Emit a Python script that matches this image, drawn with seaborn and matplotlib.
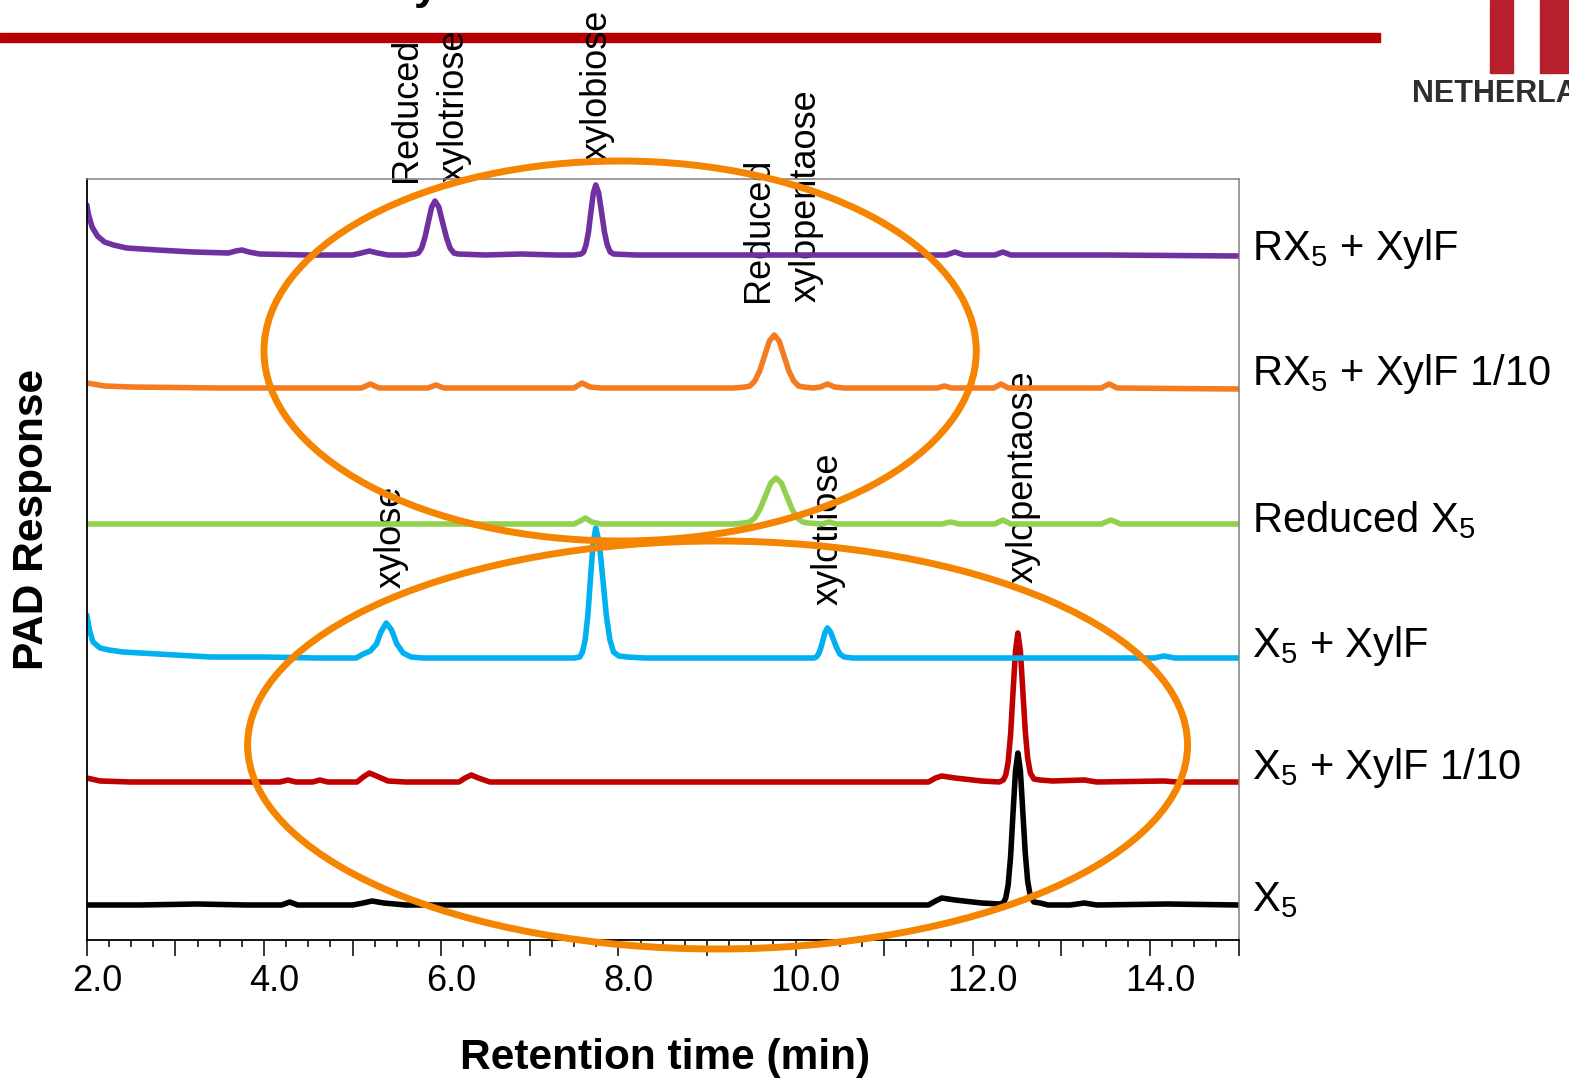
import pandas as pd
import matplotlib
matplotlib.use("Agg")
import matplotlib.pyplot as plt
import seaborn as sns
from matplotlib.patches import Ellipse, Rectangle
from matplotlib.ticker import MultipleLocator, FuncFormatter
from matplotlib.transforms import ScaledTranslation

# HPAEC-PAD traces: (retention time [min], signal above the trace's own baseline)
x5_trace = [
    (2.0, 0), (2.6, 0), (3.25, 1), (3.8, 0), (4.2, 0), (4.29, 3), (4.38, 0),
    (5.0, 0), (5.12, 2), (5.22, 4), (5.35, 2), (5.6, 0), (7.0, 0), (10.3, 0),
    (11.5, 0), (11.58, 4), (11.65, 7), (11.8, 5), (12.1, 2), (12.3, 1),
    (12.345, 2), (12.373, 7), (12.40, 20), (12.428, 49), (12.455, 92),
    (12.483, 134), (12.51, 152), (12.538, 134), (12.565, 94), (12.593, 52),
    (12.62, 24), (12.65, 9), (12.69, 3), (12.76, 2), (12.85, 0), (13.1, 0),
    (13.26, 2), (13.4, 0), (14.2, 1), (15.0, 0),
]
x5_xylf_10_trace = [
    (2.0, 4), (2.15, 1), (2.5, 0), (3.5, 0), (4.18, 0), (4.27, 2), (4.36, 0),
    (4.55, 0), (4.63, 2), (4.72, 0), (5.05, 0), (5.12, 5), (5.19, 9), (5.27, 6),
    (5.4, 1), (5.6, 0), (6.2, 0), (6.27, 4), (6.34, 7), (6.42, 4), (6.55, 0),
    (11.5, 0), (11.58, 4), (11.65, 6), (11.8, 4), (12.1, 1), (12.3, 0),
    (12.345, 2), (12.373, 7), (12.40, 20), (12.428, 48), (12.455, 90),
    (12.483, 131), (12.51, 149), (12.538, 131), (12.565, 92), (12.593, 51),
    (12.62, 24), (12.65, 9), (12.69, 3), (12.76, 2), (12.9, 1), (13.26, 2),
    (13.4, 0), (14.16, 1), (14.3, 0), (15.0, 0),
]
x5_xylf_trace = [
    (2.0, 43), (2.03, 28), (2.07, 16), (2.15, 10), (2.25, 8), (2.41, 6),
    (2.8, 4), (3.4, 1), (4.0, 1), (4.6, 0), (5.04, 0), (5.12, 4), (5.2, 7),
    (5.27, 14), (5.32, 26), (5.38, 35), (5.44, 28), (5.5, 14), (5.57, 5),
    (5.66, 1), (5.8, 0), (7.5, 0), (7.565, 1), (7.595, 6), (7.625, 18),
    (7.655, 42), (7.685, 79), (7.715, 115), (7.745, 130), (7.785, 115),
    (7.825, 79), (7.865, 42), (7.905, 18), (7.945, 6), (8.005, 2), (8.1, 1),
    (8.3, 0), (10.15, 0), (10.21, 0), (10.235, 1), (10.26, 4), (10.285, 10),
    (10.31, 18), (10.335, 26), (10.36, 30), (10.395, 26), (10.43, 18),
    (10.465, 10), (10.5, 4), (10.55, 1), (10.65, 0), (14.05, 0), (14.16, 2),
    (14.28, 0), (15.0, 0),
]
reduced_x5_trace = [
    (2.0, 0), (7.5, 0), (7.57, 3), (7.63, 6), (7.7, 2), (7.8, 0), (9.3, 0),
    (9.42, 1), (9.48, 2), (9.54, 6), (9.60, 15), (9.66, 28), (9.72, 41),
    (9.78, 46), (9.84, 41), (9.90, 28), (9.96, 15), (10.02, 6), (10.08, 2),
    (10.14, 1), (10.3, 0), (10.38, 2), (10.46, 0), (11.65, 0), (11.75, 2),
    (11.85, 0), (12.25, 0), (12.34, 4), (12.43, 0), (13.45, 0), (13.56, 4),
    (13.67, 0), (15.0, 0),
]
rx5_xylf_10_trace = [
    (2.0, 5), (2.2, 2), (2.5, 1), (3.5, 0), (5.1, 0), (5.2, 4), (5.3, 0),
    (5.85, 0), (5.94, 3), (6.03, 0), (7.5, 0), (7.59, 5), (7.68, 1), (7.8, 0),
    (9.3, 0), (9.43, 1), (9.485, 2), (9.54, 7), (9.595, 17), (9.65, 32),
    (9.705, 47), (9.76, 53), (9.815, 47), (9.87, 32), (9.925, 17), (9.98, 7),
    (10.035, 2), (10.09, 1), (10.2, 0), (10.28, 1), (10.36, 4), (10.44, 1),
    (10.55, 0), (11.6, 0), (11.68, 2), (11.76, 0), (12.24, 0), (12.32, 4),
    (12.4, 0), (13.45, 0), (13.54, 4), (13.63, 0), (15.0, -1),
]
rx5_xylf_trace = [
    (2.0, 50), (2.02, 40), (2.06, 28), (2.12, 19), (2.2, 13), (2.3, 10),
    (2.45, 7), (2.8, 5), (3.2, 3), (3.6, 2), (3.68, 4), (3.75, 5), (3.83, 3),
    (3.95, 1), (4.5, 0), (5.0, 0), (5.1, 2), (5.19, 4), (5.28, 2), (5.4, 0),
    (5.6, 0), (5.705, 1), (5.743, 2), (5.78, 7), (5.818, 18), (5.855, 33),
    (5.893, 48), (5.93, 54), (5.973, 48), (6.015, 33), (6.058, 18), (6.10, 7),
    (6.143, 2), (6.19, 1), (6.5, 0), (6.9, 1), (7.3, 0), (7.5, 0), (7.58, 1),
    (7.608, 3), (7.635, 10), (7.663, 23), (7.69, 43), (7.718, 62), (7.745, 70),
    (7.778, 62), (7.81, 43), (7.843, 23), (7.875, 10), (7.908, 3), (7.945, 1),
    (8.2, 0), (11.7, 0), (11.8, 3), (11.9, 0), (12.25, 0), (12.34, 3),
    (12.43, 0), (13.5, 0), (15.0, -1),
]

sample_traces = [x5_trace, x5_xylf_10_trace, x5_xylf_trace,
                 reduced_x5_trace, rx5_xylf_10_trace, rx5_xylf_trace]
sample_names = ["X$_5$", "X$_5$ + XylF 1/10", "X$_5$ + XylF",
                "Reduced X$_5$", "RX$_5$ + XylF 1/10", "RX$_5$ + XylF"]
trace_offsets = [35, 158, 282, 416, 552, 685]
trace_colors = ["#000000", "#C00000", "#00B0F0", "#92D050", "#F47B20", "#7030A0"]

peak_labels = ["Reduced\nxylotriose", "xylobiose", "Reduced\nxylopentaose",
               "xylose", "xylotriose", "xylopentaose"]

# layout (data coords)
peak_label_pos = [(5.88, 758), (7.76, 780), (9.85, 638),
                  (5.44, 352), (10.37, 335), (12.57, 357)]
name_label_y = [29, 161, 283, 408, 555, 680]
circles = [(8.02, 589, 8.04, 380), (9.12, 195, 10.61, 408)]

rows = []
for name, trace, off in zip(sample_names, sample_traces, trace_offsets):
    for t, s in trace:
        rows.append({"sample": name, "time": t, "response": s + off})
df = pd.DataFrame(rows)

sns.set_theme(style="white")
plt.rcParams["font.family"] = ["Liberation Sans", "DejaVu Sans"]
plt.rcParams["mathtext.default"] = "regular"
plt.rcParams["text.color"] = "black"
plt.rcParams["axes.labelcolor"] = "black"
plt.rcParams["xtick.color"] = "black"

W, H = 1569, 1078
fig = plt.figure(figsize=(W / 100, H / 100), dpi=100)
ax = fig.add_axes([86.8 / W, 1 - 940 / H, (1238.5 - 86.8) / W, (940 - 179) / H])

sns.lineplot(data=df, x="time", y="response", hue="sample",
             palette=dict(zip(sample_names, trace_colors)),
             hue_order=sample_names, estimator=None, sort=False,
             linewidth=4, legend=False, ax=ax,
             solid_joinstyle="round", solid_capstyle="round")

ax.set_xlim(2, 15)
ax.set_ylim(0, 761)
ax.set_yticks([])
ax.xaxis.set_major_locator(MultipleLocator(1))
ax.xaxis.set_minor_locator(MultipleLocator(0.25))
ax.xaxis.set_major_formatter(FuncFormatter(
    lambda v, p: f"{v:.1f}" if round(v) % 2 == 0 else ""))
ax.tick_params(axis="x", which="major", direction="out", length=11.5,
               width=1.1, color="black", labelcolor="black", labelsize=26,
               pad=6, bottom=True)
ax.tick_params(axis="x", which="minor", direction="out", length=5,
               width=1.1, color="black", bottom=True)
shift = ScaledTranslation(0.10, 0, fig.dpi_scale_trans)
for lab in ax.get_xticklabels():
    lab.set_transform(lab.get_transform() + shift)

for side in ["left", "bottom"]:
    ax.spines[side].set_color("black")
    ax.spines[side].set_linewidth(1.3)
for side in ["top", "right"]:
    ax.spines[side].set_color("#808080")
    ax.spines[side].set_linewidth(1.1)

ax.set_xlabel("Retention time (min)", fontsize=30.5, fontweight="bold",
              va="top", color="black")
ax.xaxis.set_label_coords(0.502, -0.129)
ax.set_ylabel("PAD Response", fontsize=30.5, fontweight="bold", color="black")
ax.yaxis.set_label_coords(-0.030, 0.553)

for name, y in zip(sample_names, name_label_y):
    ax.text(15.155, y, name, fontsize=30, ha="left", va="baseline",
            color="black", clip_on=False)

for txt, (px, py) in zip(peak_labels, peak_label_pos):
    ax.text(px, py, txt, rotation=90, fontsize=26, ha="center", va="bottom",
            multialignment="left", linespacing=1.45, color="black",
            zorder=1.5, clip_on=False)

for cx, cy, w, h in circles:
    ax.add_patch(Ellipse((cx, cy), w, h, fill=False, edgecolor="#F58400",
                         linewidth=5, zorder=5, clip_on=False))

# slide decoration: red rule, cut-off title, logo corner
fig.patches.append(Rectangle((0, 1 - 42 / H), 1380 / W, 9 / H,
                             transform=fig.transFigure, color="#B80000", zorder=-1))
fig.patches.append(Rectangle((1490 / W, 1 - 73 / H), 23 / W, 73 / H,
                             transform=fig.transFigure, color="#B5202A", zorder=-1))
fig.patches.append(Rectangle((1540 / W, 1 - 73 / H), 30 / W, 73 / H,
                             transform=fig.transFigure, color="#B5202A", zorder=-1))
fig.text(1412 / W, 1 - 102 / H, "NETHERLANDS", fontsize=22, fontweight="bold",
         color="#2E2E2E")
fig.text(426 / W, 1 + 1 / H, "y", fontsize=32, fontweight="bold",
         ha="center", va="baseline", color="black")

fig.savefig("out.png", dpi=100)
